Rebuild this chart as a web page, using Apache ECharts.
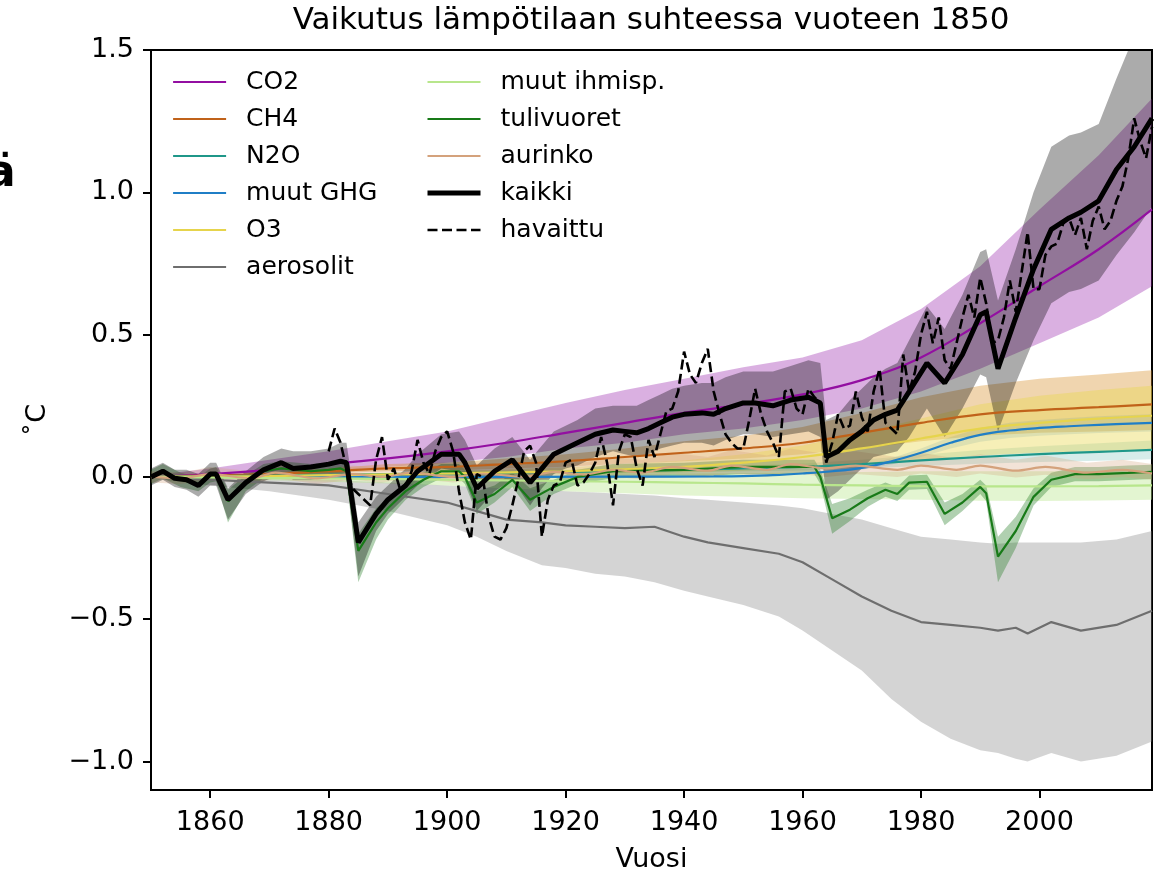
<!DOCTYPE html>
<html><head><meta charset="utf-8">
<script src="https://cdn.jsdelivr.net/npm/echarts@6/dist/echarts.min.js"></script>
<style>html,body{margin:0;padding:0;background:#fff}#c{width:1156px;height:872px}</style>
</head><body><div id="c"></div><script>
// ---------- tick labels ----------
const X_TICKS = [1860,1880,1900,1920,1940,1960,1980,2000];
const Y_TICKS = [-1.0,-0.5,0.0,0.5,1.0,1.5];

// ---------- smooth forcings (common years) ----------
const SM_YEARS = [1850,1860,1870,1880,1890,1900,1910,1920,1930,1940,1950,1960,1970,1980,1990,2000,2010,2019];
const CO2    = [0,0.01,0.025,0.045,0.065,0.09,0.12,0.155,0.19,0.225,0.255,0.29,0.34,0.42,0.54,0.67,0.80,0.94];
const CO2_HI = [0.005,0.03,0.06,0.09,0.125,0.16,0.21,0.26,0.305,0.345,0.385,0.42,0.48,0.59,0.74,0.94,1.13,1.33];
const CO2_LO = [0,0.003,0.01,0.02,0.035,0.05,0.07,0.10,0.12,0.15,0.17,0.20,0.24,0.30,0.38,0.47,0.56,0.67];
const CH4    = [0,0.005,0.01,0.02,0.03,0.035,0.045,0.055,0.07,0.085,0.10,0.12,0.155,0.19,0.22,0.235,0.245,0.255];
const CH4_HI = [0,0.008,0.015,0.03,0.045,0.05,0.065,0.08,0.10,0.125,0.145,0.175,0.225,0.28,0.32,0.345,0.36,0.375];
const CH4_LO = [0,0.003,0.006,0.013,0.02,0.023,0.03,0.036,0.046,0.055,0.065,0.08,0.10,0.125,0.145,0.155,0.16,0.165];
const N2O    = [0,0.002,0.005,0.007,0.01,0.012,0.015,0.018,0.021,0.025,0.03,0.035,0.045,0.058,0.07,0.08,0.088,0.095];
const N2O_HI = [0,0.003,0.007,0.01,0.014,0.017,0.02,0.025,0.028,0.034,0.04,0.047,0.06,0.078,0.095,0.108,0.118,0.128];
const N2O_LO = [0,0.001,0.003,0.005,0.006,0.008,0.01,0.012,0.014,0.016,0.02,0.023,0.03,0.038,0.046,0.052,0.057,0.062];
const O3     = [0,0.002,0.003,0.006,0.009,0.012,0.016,0.02,0.027,0.035,0.05,0.07,0.10,0.135,0.17,0.19,0.205,0.215];
const O3_HI  = [0,0.004,0.006,0.01,0.015,0.02,0.027,0.034,0.045,0.058,0.08,0.11,0.155,0.205,0.255,0.285,0.305,0.32];
const O3_LO  = [0,0.001,0.001,0.002,0.004,0.005,0.007,0.009,0.012,0.016,0.022,0.032,0.045,0.06,0.075,0.085,0.09,0.095];
const OTH    = [0,-0.002,-0.004,-0.005,-0.007,-0.01,-0.012,-0.015,-0.017,-0.02,-0.023,-0.027,-0.03,-0.032,-0.033,-0.033,-0.032,-0.03];
const OTH_HI = [0,0.002,0.003,0.005,0.006,0.008,0.009,0.01,0.011,0.012,0.013,0.015,0.017,0.02,0.02,0.02,0.02,0.02];
const OTH_LO = [0,-0.006,-0.012,-0.017,-0.023,-0.03,-0.04,-0.05,-0.057,-0.065,-0.07,-0.075,-0.078,-0.08,-0.084,-0.085,-0.083,-0.08];

// ---------- other GHG ----------
const GHG_YEARS = [1850,1900,1930,1945,1950,1955,1960,1965,1970,1975,1980,1985,1990,1995,2000,2005,2010,2019];
const GHG    = [0,0,0.001,0.002,0.003,0.006,0.012,0.02,0.032,0.055,0.085,0.12,0.148,0.163,0.172,0.178,0.183,0.19];
const GHG_HI = [0,0,0.001,0.003,0.004,0.008,0.015,0.025,0.04,0.066,0.1,0.14,0.172,0.19,0.2,0.207,0.213,0.22];
const GHG_LO = [0,0,0.001,0.002,0.002,0.004,0.009,0.015,0.025,0.044,0.07,0.1,0.124,0.137,0.145,0.15,0.154,0.16];

// ---------- aerosols ----------
const AER_YEARS = [1850,1860,1870,1880,1890,1900,1905,1910,1916,1920,1925,1930,1935,1940,1944,1950,1956,1960,1965,1970,1975,1980,1985,1990,1993,1996,1998,2002,2007,2013,2019];
const AER    = [0,-0.01,-0.02,-0.03,-0.06,-0.09,-0.12,-0.15,-0.16,-0.17,-0.175,-0.18,-0.175,-0.21,-0.23,-0.25,-0.27,-0.30,-0.36,-0.42,-0.47,-0.51,-0.52,-0.53,-0.54,-0.53,-0.55,-0.51,-0.54,-0.52,-0.47];
const AER_HI = [0,-0.003,-0.006,-0.01,-0.02,-0.03,-0.035,-0.04,-0.045,-0.05,-0.055,-0.06,-0.065,-0.075,-0.08,-0.09,-0.1,-0.11,-0.13,-0.15,-0.18,-0.21,-0.22,-0.23,-0.235,-0.23,-0.23,-0.23,-0.23,-0.22,-0.19];
const AER_LO = [-0.005,-0.03,-0.05,-0.08,-0.12,-0.17,-0.21,-0.26,-0.31,-0.32,-0.34,-0.35,-0.37,-0.40,-0.42,-0.45,-0.49,-0.54,-0.61,-0.68,-0.78,-0.86,-0.92,-0.96,-0.97,-0.99,-1.0,-0.97,-1.0,-0.98,-0.93];

// ---------- solar ----------
const SOL_YEARS = [1850,1855,1860,1867,1871,1878,1884,1889,1894,1901,1906,1913,1918,1923,1928,1933,1938,1944,1948,1954,1958,1964,1969,1976,1980,1986,1990,1996,2001,2008,2014,2019];
const SOL    = [0,-0.005,0.01,-0.005,0.015,-0.005,0.01,0.0,0.015,0.0,0.012,0.0,0.018,0.008,0.025,0.015,0.035,0.022,0.04,0.025,0.045,0.03,0.04,0.025,0.04,0.025,0.04,0.022,0.035,0.015,0.025,0.012];
const SOL_HI = [0.02,0.015,0.035,0.02,0.045,0.025,0.04,0.03,0.05,0.035,0.05,0.04,0.06,0.05,0.07,0.06,0.085,0.07,0.095,0.075,0.1,0.08,0.09,0.07,0.085,0.065,0.08,0.06,0.075,0.05,0.06,0.045];
const SOL_LO = [-0.02,-0.025,-0.01,-0.025,-0.005,-0.025,-0.01,-0.02,-0.005,-0.02,-0.008,-0.02,-0.002,-0.012,0.0,-0.008,0.01,-0.002,0.012,0.0,0.015,0.0,0.01,0.0,0.012,0.0,0.012,-0.002,0.008,-0.008,0.0,-0.01];

// ---------- volcanic ----------
const VOL_YEARS = [1850,1852,1855,1858,1860,1861,1863,1866,1869,1872,1877,1880,1882,1883,1885,1888,1890,1893,1896,1899,1902,1903,1905,1908,1911,1914,1918,1922,1928,1940,1950,1962,1963,1965,1968,1971,1974,1976,1978,1981,1984,1987,1990,1991,1993,1996,1999,2002,2006,2010,2015,2019];
const VOL    = [0.0,0.02,-0.01,-0.025,0.005,0.01,-0.085,-0.02,0.02,0.03,0.02,0.025,0.03,0.02,-0.26,-0.16,-0.11,-0.05,-0.01,0.02,0.02,0.0,-0.09,-0.06,-0.01,-0.08,-0.035,0.0,0.02,0.025,0.035,0.035,0.0,-0.145,-0.115,-0.075,-0.045,-0.06,-0.02,-0.017,-0.13,-0.09,-0.035,-0.057,-0.28,-0.19,-0.07,-0.01,0.01,0.01,0.014,0.018];
const VOL_HI = [0.025,0.045,0.015,0.0,0.03,0.035,-0.045,0.005,0.045,0.055,0.045,0.05,0.055,0.045,-0.20,-0.11,-0.075,-0.02,0.015,0.045,0.045,0.025,-0.05,-0.03,0.015,-0.04,-0.01,0.025,0.045,0.05,0.06,0.06,0.025,-0.095,-0.075,-0.045,-0.02,-0.035,0.005,0.008,-0.09,-0.06,-0.01,-0.03,-0.21,-0.14,-0.04,0.015,0.035,0.035,0.04,0.043];
const VOL_LO = [-0.025,-0.005,-0.035,-0.05,-0.02,-0.015,-0.16,-0.05,-0.005,0.005,-0.005,0.0,0.005,-0.005,-0.37,-0.22,-0.15,-0.08,-0.035,-0.005,-0.005,-0.025,-0.13,-0.09,-0.035,-0.12,-0.06,-0.025,-0.005,0.0,0.01,0.01,-0.025,-0.20,-0.155,-0.105,-0.07,-0.085,-0.045,-0.042,-0.17,-0.12,-0.06,-0.085,-0.37,-0.25,-0.10,-0.035,-0.015,-0.015,-0.011,-0.007];

// ---------- total (kaikki) ----------
const KAI_YEARS = [1850,1852,1854,1856,1858,1860,1861,1863,1866,1869,1872,1874,1877,1880,1882,1883,1885,1888,1890,1893,1895,1899,1902,1903,1905,1908,1911,1914,1916,1918,1920,1922,1925,1928,1930,1932,1934,1936,1938,1940,1943,1945,1947,1950,1952,1955,1958,1961,1963,1964,1966,1968,1970,1972,1974,1976,1978,1981,1984,1987,1990,1991,1993,1996,1999,2002,2005,2007,2010,2013,2016,2019];
const KAI    = [0.00,0.02,-0.005,-0.01,-0.03,0.01,0.01,-0.08,-0.02,0.025,0.05,0.03,0.035,0.045,0.055,0.05,-0.23,-0.13,-0.08,-0.03,0.02,0.08,0.08,0.05,-0.04,0.02,0.06,-0.02,0.03,0.08,0.10,0.12,0.15,0.165,0.16,0.155,0.17,0.19,0.21,0.22,0.225,0.22,0.24,0.26,0.26,0.25,0.27,0.28,0.26,0.07,0.09,0.13,0.16,0.20,0.22,0.235,0.30,0.40,0.33,0.43,0.57,0.58,0.38,0.56,0.73,0.87,0.91,0.93,0.97,1.08,1.16,1.26];
const KAI_HI = [0.03,0.05,0.025,0.025,0.01,0.05,0.05,-0.04,0.02,0.07,0.10,0.09,0.09,0.10,0.12,0.12,-0.16,-0.07,-0.03,0.03,0.08,0.15,0.16,0.13,0.04,0.10,0.14,0.06,0.11,0.16,0.18,0.20,0.24,0.25,0.25,0.25,0.27,0.29,0.31,0.32,0.33,0.33,0.35,0.37,0.37,0.37,0.39,0.41,0.40,0.20,0.22,0.27,0.31,0.35,0.38,0.40,0.48,0.60,0.52,0.64,0.79,0.80,0.62,0.80,1.00,1.16,1.20,1.21,1.24,1.40,1.55,1.72];
const KAI_LO = [-0.03,-0.01,-0.035,-0.045,-0.07,-0.03,-0.03,-0.15,-0.06,-0.015,0.01,-0.01,-0.01,0.0,0.01,0.0,-0.35,-0.19,-0.13,-0.07,-0.03,0.03,0.02,-0.01,-0.12,-0.05,-0.01,-0.10,-0.04,0.01,0.03,0.04,0.07,0.09,0.08,0.07,0.08,0.10,0.11,0.12,0.12,0.11,0.13,0.15,0.15,0.14,0.15,0.16,0.14,-0.08,-0.05,-0.01,0.03,0.07,0.08,0.09,0.14,0.24,0.14,0.24,0.36,0.35,0.16,0.33,0.48,0.61,0.65,0.66,0.69,0.78,0.86,0.95];

// ---------- observed (havaittu), annual 1880-2019 ----------
const OBS_FIRST_YEAR = 1880;
const OBS = [
 0.09,0.17,0.12,0.03,-0.04,-0.06,-0.08,-0.10,0.06,0.14,
 -0.01,0.03,-0.04,-0.03,0.02,0.13,0.05,0.01,0.09,0.14,
 0.16,0.09,-0.05,-0.16,-0.22,0.01,0.00,-0.14,-0.21,-0.22,
 -0.18,-0.10,-0.01,0.09,0.11,0.05,-0.21,-0.08,-0.03,-0.02,
 0.05,0.06,-0.03,-0.02,0.01,0.05,0.14,0.05,-0.10,0.09,
 0.15,0.14,0.03,-0.03,0.13,0.07,0.15,0.23,0.24,0.30,
 0.44,0.36,0.33,0.40,0.45,0.30,0.22,0.15,0.12,0.10,
 0.10,0.20,0.31,0.22,0.16,0.12,0.07,0.30,0.31,0.24,
 0.22,0.31,0.28,0.26,0.05,0.12,0.22,0.17,0.18,0.30,
 0.21,0.16,0.30,0.38,0.19,0.17,0.15,0.43,0.30,0.37,
 0.50,0.58,0.47,0.56,0.41,0.38,0.47,0.56,0.64,0.56,
 0.70,0.61,0.47,0.48,0.56,0.69,0.58,0.72,0.86,0.66,
 0.66,0.78,0.81,0.82,0.89,0.91,0.85,0.91,0.80,0.90,
 0.95,0.87,0.90,0.97,1.02,1.12,1.26,1.18,1.12,1.23];

// ---------- build ----------
const FONT = 'DejaVu Sans';
const pairs = (ys, vs) => ys.map((y, i) => [y, vs[i]]);
// uncertainty band: polygon through the axis scales (api.coord)
function band(id, years, lo, hi, color) {
  return {
    name: id, type: 'custom', silent: true, z: 2,
    data: years.map((y, i) => [y, lo[i], hi[i]]),
    encode: {x: 0, y: [1, 2]},
    renderItem: function (params, api) {
      if (params.dataIndex !== 0) return null;
      const pts = [];
      for (let i = 0; i < years.length; i++) pts.push(api.coord([years[i], hi[i]]));
      for (let i = years.length - 1; i >= 0; i--) pts.push(api.coord([years[i], lo[i]]));
      const cs = params.coordSys;
      return {type: 'polygon', shape: {points: pts}, style: {fill: color},
        clipPath: {type: 'rect', shape: {x: cs.x, y: cs.y, width: cs.width, height: cs.height}}};
    }
  };
}
function line(name, years, vals, color, width, smooth, extra) {
  return Object.assign({name: name, type: 'line', data: pairs(years, vals), symbol: 'none',
    smooth: smooth, lineStyle: {color: color, width: width}, itemStyle: {color: color}, z: 3}, extra || {});
}
const OBS_YEARS = OBS.map((v, i) => OBS_FIRST_YEAR + i);

const C = {
  co2: '#930fa1', ch4: '#c0621a', n2o: '#1f9789', ghg: '#1f7ec6', o3: '#e6d44c',
  aer: '#6e6e6e', oth: '#b8e68c', vol: '#187a18', sol: '#d4a27c'
};

const series = [
  band('b_aer', AER_YEARS, AER_LO, AER_HI, 'rgba(128,128,128,0.34)'),
  band('b_co2', SM_YEARS, CO2_LO, CO2_HI, 'rgba(150,30,170,0.35)'),
  band('b_ch4', SM_YEARS, CH4_LO, CH4_HI, 'rgba(215,145,45,0.38)'),
  band('b_n2o', SM_YEARS, N2O_LO, N2O_HI, 'rgba(30,150,140,0.18)'),
  band('b_ghg', GHG_YEARS, GHG_LO, GHG_HI, 'rgba(30,120,200,0.18)'),
  band('b_o3', SM_YEARS, O3_LO, O3_HI, 'rgba(232,214,74,0.40)'),
  band('b_oth', SM_YEARS, OTH_LO, OTH_HI, 'rgba(185,230,140,0.40)'),
  band('b_vol', VOL_YEARS, VOL_LO, VOL_HI, 'rgba(30,120,30,0.35)'),
  band('b_sol', SOL_YEARS, SOL_LO, SOL_HI, 'rgba(212,162,124,0.30)'),
  band('b_kai', KAI_YEARS, KAI_LO, KAI_HI, 'rgba(0,0,0,0.33)'),
  line('CO2', SM_YEARS, CO2, C.co2, 2.2, 0.4),
  line('CH4', SM_YEARS, CH4, C.ch4, 2.2, 0.4),
  line('N2O', SM_YEARS, N2O, C.n2o, 2.2, 0.4),
  line('muut GHG', GHG_YEARS, GHG, C.ghg, 2.2, 0.4),
  line('O3', SM_YEARS, O3, C.o3, 2.2, 0.4),
  line('aerosolit', AER_YEARS, AER, C.aer, 2.2, false),
  line('muut ihmisp.', SM_YEARS, OTH, C.oth, 2.2, 0.4),
  line('tulivuoret', VOL_YEARS, VOL, C.vol, 2.2, false),
  line('aurinko', SOL_YEARS, SOL, C.sol, 2.2, 0.3),
  line('kaikki', KAI_YEARS, KAI, '#000', 5, false, {z: 4}),
  line('havaittu', OBS_YEARS, OBS, '#000', 2.6, false, {z: 4, lineStyle: {color: '#000', width: 2.6, type: [10, 4.5]}})
];

const legendText = {fontSize: 25, lineHeight: 28, fontFamily: FONT, color: '#000', padding: [0, 0, 0, 15]};
const legendCommon = {orient: 'vertical', top: 68, itemWidth: 53, itemHeight: 14, itemGap: 9, padding: 0,
  selectedMode: false, textStyle: legendText, itemStyle: {opacity: 0}, lineStyle: {width: 'inherit'}};
const yFmt = v => (v < 0 ? '\u2212' + Math.abs(v).toFixed(1) : v.toFixed(1));

const option = {
  animation: false,
  backgroundColor: '#fff',
  title: {text: 'Vaikutus lämpötilaan suhteessa vuoteen 1850', left: 651, textAlign: 'center', top: 5, padding: 0,
    textStyle: {fontSize: 31, fontWeight: 'normal', color: '#000', fontFamily: FONT}},
  grid: {left: 151, right: 4, top: 50, bottom: 82, outerBoundsMode: 'none', containLabel: false,
    show: true, borderColor: '#000', borderWidth: 2, backgroundColor: 'transparent'},
  legend: [
    Object.assign({data: ['CO2', 'CH4', 'N2O', 'muut GHG', 'O3', 'aerosolit'], left: 172}, legendCommon),
    Object.assign({data: ['muut ihmisp.', 'tulivuoret', 'aurinko', 'kaikki', 'havaittu'], left: 425}, legendCommon)
  ],
  xAxis: {type: 'value', min: 1850, max: 2019,
    name: 'Vuosi', nameLocation: 'middle', nameGap: 56,
    nameTextStyle: {fontSize: 27, color: '#000', fontFamily: FONT},
    axisLine: {onZero: false, lineStyle: {color: '#000', width: 2}},
    axisTick: {customValues: X_TICKS, length: 8, lineStyle: {color: '#000', width: 2}},
    axisLabel: {customValues: X_TICKS, fontSize: 27, color: '#000', fontFamily: FONT, margin: 19, formatter: v => String(v)},
    splitLine: {show: false}},
  yAxis: {type: 'value', min: -1.1, max: 1.5,
    name: '˚C', nameLocation: 'middle', nameGap: 100, nameRotate: 90,
    nameTextStyle: {fontSize: 27, color: '#000', fontFamily: FONT},
    axisLine: {onZero: false, lineStyle: {color: '#000', width: 2}},
    axisTick: {customValues: Y_TICKS, length: 8, lineStyle: {color: '#000', width: 2}},
    axisLabel: {customValues: Y_TICKS, fontSize: 27, color: '#000', fontFamily: FONT, margin: 17, formatter: yFmt},
    splitLine: {show: false}},
  graphic: [{type: 'text', left: -14, top: 153, silent: true,
    style: {text: 'ä', font: 'bold 44px "DejaVu Sans"', fill: '#000'}}],
  series: series
};
const chart = echarts.init(document.getElementById('c'), null, {renderer: 'canvas'});
chart.setOption(option);
</script></body></html>
